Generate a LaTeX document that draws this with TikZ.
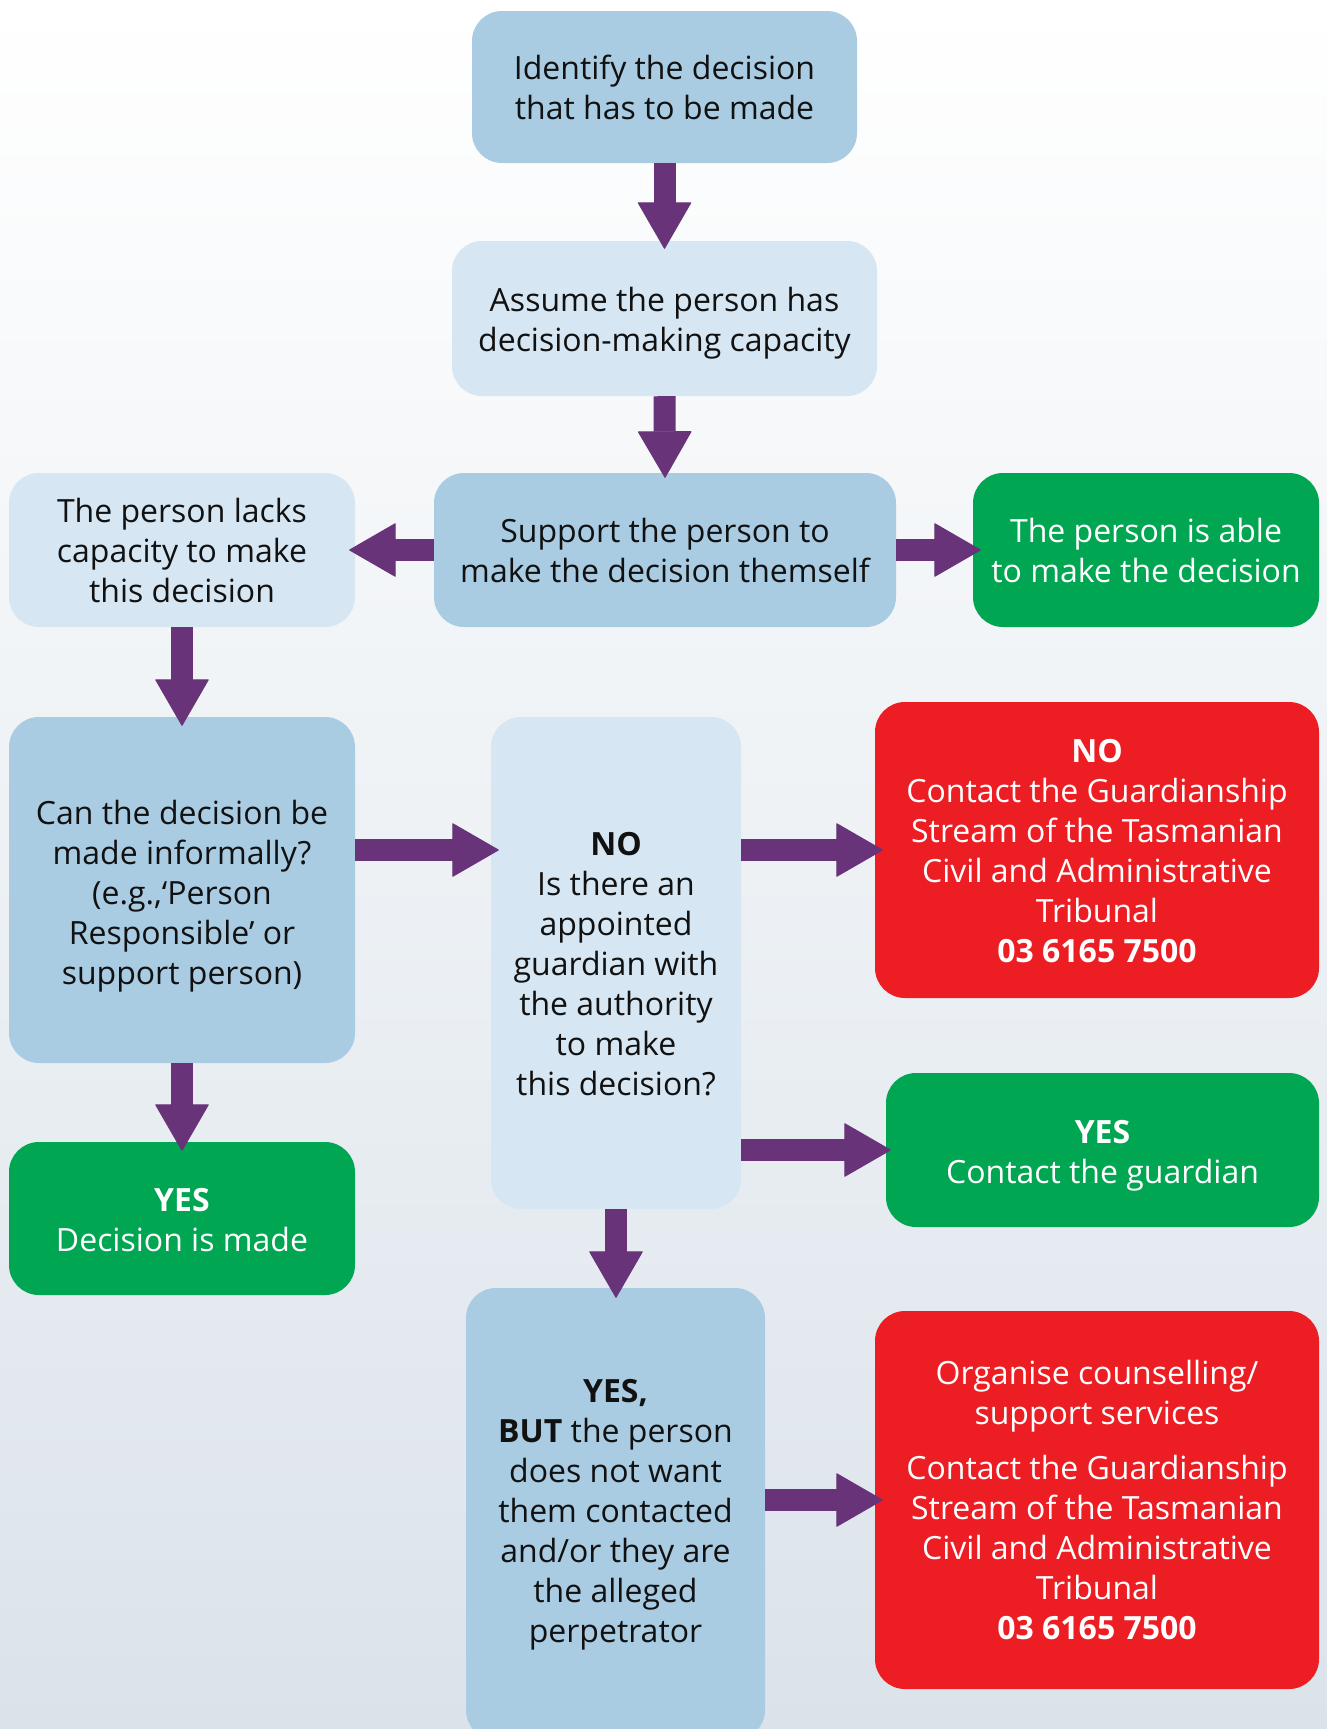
\documentclass[tikz,border=0pt]{standalone}
\usepackage{fontspec}
\setmainfont{Open Sans}
\usetikzlibrary{arrows.meta}
\definecolor{bgbot}{RGB}{219,227,234}
\definecolor{darkbox}{RGB}{169,204,227}
\definecolor{lightbox}{RGB}{214,230,242}
\definecolor{greenbox}{RGB}{0,166,81}
\definecolor{redbox}{RGB}{237,29,36}
\definecolor{purp}{RGB}{105,51,122}
\definecolor{txt}{RGB}{17,17,17}
\tikzset{
  box/.style={rectangle, rounded corners=30pt, inner sep=0pt, align=center,
    font=\fontsize{32}{40}\selectfont, text=txt},
  dbox/.style={box, fill=darkbox},
  lbox/.style={box, fill=lightbox},
  gbox/.style={box, fill=greenbox, text=white},
  rbox/.style={box, fill=redbox, text=white},
  boxtext/.style={inner sep=0pt, align=center, font=\fontsize{32}{40}\selectfont, text=txt},
  bigarrow/.style={draw=purp, line width=22pt,
    -{Triangle[width=54pt,length=47pt,line width=1pt,round]}},
}
\begin{document}
\begin{tikzpicture}[x=1pt,y=-1pt]
\useasboundingbox (0,0) rectangle (1327,1729);
\shade[top color=white, bottom color=bgbot] (0,0) rectangle (1327,1729);

\node[dbox, minimum width=385pt, minimum height=152pt] (b1) at (664.5,87)
  {Identify the decision\\that has to be made};
\node[lbox, minimum width=425pt, minimum height=155pt] (b2) at (664.5,318.5) {};
\node[boxtext] (b2t) at ([yshift=-5pt]b2.center)
  {Assume the person has\\decision-making capacity};
\node[dbox, minimum width=462pt, minimum height=154pt] (b3) at (665,550)
  {Support the person to\\make the decision themself};
\node[lbox, minimum width=346pt, minimum height=154pt] (bL) at (182,550)
  {The person lacks\\capacity to make\\this decision};
\node[gbox, minimum width=346pt, minimum height=154pt] (bR) at (1146,550)
  {The person is able\\to make the decision};
\node[dbox, minimum width=346pt, minimum height=346pt] (can) at (182,890) {};
\node[boxtext] (cant) at ([yshift=-6pt]can.center)
  {Can the decision be\\made informally?\\(e.g.,‘Person\\Responsible’ or\\support person)};
\node[gbox, minimum width=346pt, minimum height=153pt] (yesdec) at (182,1218.5) {};
\node[boxtext, text=white] (yesdect) at ([yshift=-2pt]yesdec.center)
  {\textbf{YES}\\Decision is made};
\node[lbox, minimum width=250pt, minimum height=492pt] (nobox) at (616,963) {};
\node[boxtext] (noboxt) at ([yshift=-1pt]nobox.center)
  {\textbf{NO}\\Is there an\\appointed\\guardian with\\the authority\\to make\\this decision?};
\node[rbox, minimum width=444pt, minimum height=296pt] (redno) at (1097,850) {};
\node[boxtext, text=white] (rednot) at ([yshift=-1pt]redno.center)
  {\textbf{NO}\\Contact the Guardianship\\Stream of the Tasmanian\\Civil and Administrative\\Tribunal\\\textbf{03 6165 7500}};
\node[gbox, minimum width=433pt, minimum height=154pt] (greenyes) at (1102.5,1150) {};
\node[boxtext, text=white] (greenyest) at ([yshift=-6pt]greenyes.center)
  {\textbf{YES}\\Contact the guardian};
\node[dbox, minimum width=299pt, minimum height=452pt] (yesbut) at (615.5,1514) {};
\node[boxtext] (yesbutt) at ([yshift=-1pt]yesbut.center)
  {\textbf{YES,}\\\textbf{BUT} the person\\does not want\\them contacted\\and/or they are\\the alleged\\perpetrator};
\node[rbox, minimum width=444pt, minimum height=378pt] (redbot) at (1097,1500)
  {Organise counselling/\\support services\\[15pt]Contact the Guardianship\\Stream of the Tasmanian\\Civil and Administrative\\Tribunal\\\textbf{03 6165 7500}};

\draw[bigarrow, shorten >=-8pt] (b1.south) -- (b2.north);
\draw[bigarrow, shorten >=-5pt] (b2.south) -- (b3.north);
\draw[bigarrow, shorten >=-6pt] (b3.west) -- (bL.east);
\draw[bigarrow, shorten >=-8pt] (b3.east) -- (bR.west);
\draw[bigarrow, shorten >=-9pt] (bL.south) -- (can.north);
\draw[bigarrow, shorten >=-8pt] (can.east |- redno.west) -- (nobox.west |- redno.west);
\draw[bigarrow, shorten >=-9pt] (can.south) -- (yesdec.north);
\draw[bigarrow, shorten >=-8pt] (nobox.east |- redno.west) -- (redno.west);
\draw[bigarrow, shorten >=-5pt] (nobox.east |- greenyes.west) -- (greenyes.west);
\draw[bigarrow, shorten >=-10pt] (nobox.south) -- (nobox.south |- yesbut.north);
\draw[bigarrow, shorten >=-8pt] (yesbut.east |- redbot.west) -- (redbot.west);
\end{tikzpicture}
\end{document}
